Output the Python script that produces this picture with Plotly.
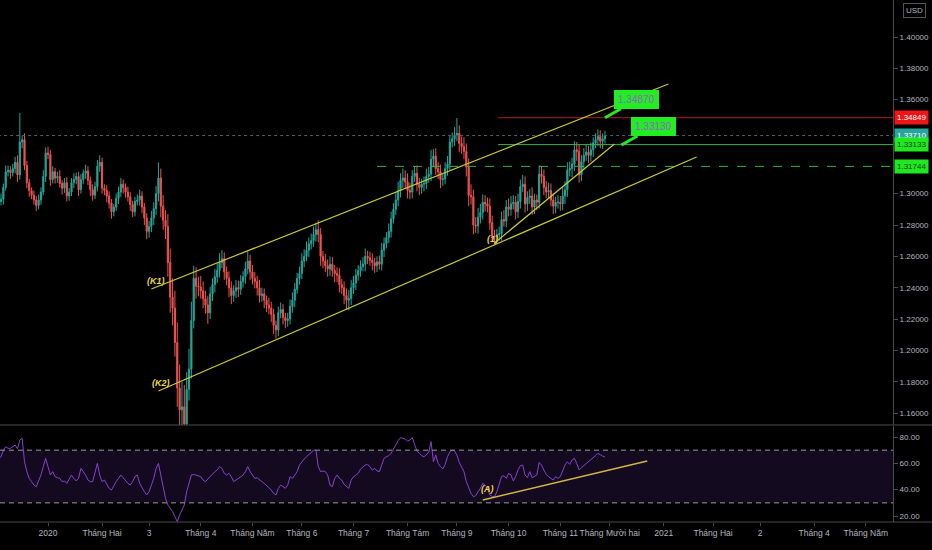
import plotly.graph_objects as go
import pandas as pd

# daily candles, first bar on 2019-12-03, one value per weekday
first_day = "2019-12-03"
first_open = 1.2930

closes = [
    # Dec 2019
    1.2950, 1.2965, 1.3040, 1.3140, 1.3150, 1.3135, 1.3160, 1.3200, 1.3120, 1.3330,
    1.3345, 1.3180, 1.3070, 1.3020, 1.2990, 1.2960, 1.2925, 1.2960, 1.3010, 1.3110,
    1.3260,
    # Jan 2020
    1.3250, 1.3090, 1.3140, 1.3100, 1.3110, 1.3065, 1.3035, 1.3070, 1.2985, 1.3010,
    1.3070, 1.3090, 1.3110, 1.3025, 1.3090, 1.3130, 1.3145, 1.3085, 1.3025, 1.2990,
    1.3045, 1.3175, 1.3200,
    # Feb
    1.3035, 1.3020, 1.2985, 1.2940, 1.2885, 1.2915, 1.2970, 1.3010, 1.3060, 1.3040,
    1.3010, 1.2980, 1.2930, 1.2885, 1.2950, 1.2960, 1.2985, 1.2915, 1.2845, 1.2760,
    # Mar
    1.2790, 1.2845, 1.2905, 1.3000, 1.3100, 1.2920, 1.2830, 1.2790, 1.2560, 1.2340,
    1.2270, 1.2050, 1.1760, 1.1620, 1.1640, 1.1530, 1.1750, 1.1880, 1.2190, 1.2460,
    1.2410, 1.2405,
    # Apr
    1.2380, 1.2330, 1.2290, 1.2240, 1.2360, 1.2420, 1.2470, 1.2510, 1.2560, 1.2585,
    1.2500, 1.2460, 1.2400, 1.2350, 1.2380, 1.2400, 1.2390, 1.2440, 1.2470, 1.2520,
    1.2570, 1.2500,
    # May
    1.2460, 1.2440, 1.2400, 1.2350, 1.2360, 1.2320, 1.2290, 1.2270, 1.2230, 1.2160,
    1.2130, 1.2240, 1.2260, 1.2210, 1.2190, 1.2200, 1.2280, 1.2320, 1.2390, 1.2460,
    1.2490,
    # Jun
    1.2570, 1.2600, 1.2640, 1.2680, 1.2700, 1.2740, 1.2770, 1.2740, 1.2600, 1.2570,
    1.2540, 1.2520, 1.2550, 1.2510, 1.2490, 1.2480, 1.2420, 1.2400, 1.2350, 1.2320,
    1.2330, 1.2400,
    # Jul
    1.2430, 1.2480, 1.2510, 1.2535, 1.2550, 1.2600, 1.2590, 1.2575, 1.2560, 1.2540,
    1.2565, 1.2550, 1.2640, 1.2680, 1.2720, 1.2760, 1.2840, 1.2900, 1.2960, 1.3020,
    1.3085, 1.3100, 1.3075,
    # Aug
    1.3020, 1.3010, 1.3110, 1.3130, 1.3060, 1.3040, 1.3060, 1.3065, 1.3110, 1.3125,
    1.3220, 1.3240, 1.3160, 1.3140, 1.3090, 1.3095, 1.3160, 1.3190, 1.3330, 1.3350,
    1.3375,
    # Sep
    1.3385, 1.3320, 1.3300, 1.3270, 1.3170, 1.2990, 1.2980, 1.2800, 1.2795, 1.2850,
    1.2880, 1.2945, 1.2935, 1.2920, 1.2815, 1.2730, 1.2725, 1.2740, 1.2745, 1.2835,
    1.2825, 1.2915,
    # Oct
    1.2900, 1.2935, 1.2945, 1.2885, 1.2950, 1.3045, 1.3060, 1.2935, 1.2975, 1.2985,
    1.2915, 1.2960, 1.2945, 1.3125, 1.3110, 1.3040, 1.3010, 1.3020, 1.2960, 1.2920,
    1.2945, 1.2945,
    # Nov
    1.2935, 1.2985, 1.3025, 1.3150, 1.3160, 1.3190, 1.3280, 1.3270, 1.3120, 1.3205,
    1.3245, 1.3265, 1.3245, 1.3280, 1.3325, 1.3345, 1.3365, 1.3335, 1.3350, 1.3371,
]

# wick lengths in pips above the body / below the body
wick_up = [
    20, 35, 25, 40, 30, 25, 30, 35, 45, 185, 25, 40, 30, 25, 20, 30, 25, 35, 30, 40, 35,
    40, 30, 35, 25, 30, 40, 20, 30, 35, 25, 30, 40, 25, 30, 35, 25, 40, 30, 25, 35, 30, 40, 45,
    30, 25, 35, 30, 25, 20, 30, 35, 40, 30, 25, 35, 30, 25, 30, 35, 40, 30, 25, 30,
    35, 45, 40, 50, 100, 60, 70, 65, 80, 90, 120, 110, 130, 150, 160, 140, 110, 130, 120, 80, 70, 60,
    70, 60, 50, 55, 45, 40, 50, 45, 60, 55, 40, 35, 45, 40, 35, 50, 45, 40, 35, 45, 60, 40,
    45, 40, 35, 50, 40, 35, 30, 45, 40, 35, 30, 40, 45, 35, 30, 40, 45, 50, 40, 35, 45,
    50, 45, 55, 40, 45, 50, 45, 60, 40, 35, 45, 40, 50, 45, 35, 40, 45, 35, 40, 45, 55, 50,
    45, 40, 35, 40, 45, 50, 35, 40, 45, 30, 35, 40, 45, 40, 35, 50, 45, 40, 50, 55, 45, 60, 50,
    55, 50, 40, 45, 50, 40, 35, 45, 50, 45, 60, 45, 50, 40, 45, 35, 40, 50, 45, 40, 50,
    98, 50, 45, 60, 50, 55, 70, 45, 50, 60, 55, 50, 45, 40, 50, 45, 40, 35, 45, 50, 60, 45,
    55, 50, 45, 40, 50, 45, 60, 50, 40, 45, 55, 40, 35, 55, 50, 45, 40, 50, 45, 40, 35, 45,
    40, 60, 55, 50, 45, 40, 55, 50, 45, 40, 45, 50, 40, 45, 35, 40, 45, 40, 35, 30,
]
wick_dn = [
    30, 25, 35, 20, 30, 40, 25, 30, 45, 30, 40, 30, 35, 40, 25, 30, 35, 25, 30, 20, 35,
    30, 40, 25, 35, 30, 25, 40, 30, 35, 30, 25, 35, 30, 40, 25, 30, 35, 30, 40, 35, 25, 30, 35,
    35, 30, 40, 35, 45, 30, 25, 35, 30, 40, 35, 30, 40, 35, 30, 25, 35, 40, 45, 50,
    40, 35, 45, 40, 50, 70, 60, 80, 90, 100, 110, 90, 120, 170, 211, 120, 90, 70, 60, 50, 80, 60,
    50, 60, 55, 70, 40, 45, 50, 40, 45, 35, 50, 45, 60, 55, 40, 45, 50, 35, 40, 45, 35, 50,
    40, 45, 50, 45, 40, 50, 45, 40, 50, 55, 55, 40, 35, 45, 50, 40, 35, 40, 45, 30, 40,
    35, 40, 30, 45, 35, 40, 45, 50, 60, 45, 40, 50, 45, 40, 55, 45, 50, 40, 55, 60, 65, 40,
    40, 45, 35, 40, 30, 45, 40, 35, 50, 45, 40, 35, 40, 45, 30, 35, 40, 30, 35, 40, 45, 50, 45,
    50, 45, 40, 35, 45, 50, 40, 45, 35, 40, 45, 50, 40, 45, 55, 40, 35, 45, 40, 35, 45,
    40, 55, 45, 50, 60, 70, 50, 60, 45, 50, 40, 45, 50, 40, 45, 40, 49, 45, 40, 45, 35, 40,
    45, 40, 35, 50, 40, 45, 35, 55, 45, 40, 50, 45, 50, 40, 45, 50, 40, 45, 40, 50, 45, 40,
    45, 40, 50, 45, 40, 55, 45, 60, 50, 40, 45, 35, 50, 40, 45, 35, 40, 45, 50, 30,
]

rsi = [
    63.8, 65.0, 70.0, 72.6, 71.4, 71.4, 72.6, 73.9, 71.0, 77.7, 79.0, 61.2, 53.7, 48.6, 46.1,
    43.5, 42.3, 46.1, 51.1, 57.5, 63.8,
    57.5, 51.1, 53.7, 49.9, 49.1, 48.6, 46.1, 46.6, 44.8, 48.6, 51.1, 48.6, 46.6, 48.6, 56.2,
    53.7, 51.1, 47.3, 46.1, 46.1, 53.7, 60.0, 51.1,
    46.1, 47.3, 43.5, 41.0, 39.7, 43.5, 46.1, 48.6, 51.1, 49.1, 46.6, 44.8, 43.5, 46.1, 49.9,
    51.1, 44.8, 41.0, 38.5, 36.0,
    38.5, 43.5, 48.6, 56.2, 60.0, 51.1, 42.3, 33.4, 28.4, 25.8, 23.3, 19.5, 15.7, 20.8, 24.6,
    28.4, 38.5, 44.8, 51.1, 51.6, 51.1, 50.6,
    49.9, 47.3, 46.1, 48.1, 49.9, 52.4, 53.7, 54.9, 57.5, 56.2, 52.4, 51.1, 52.4, 49.9, 46.1,
    47.3, 48.6, 49.9, 51.1, 53.7, 57.5, 53.7,
    51.1, 48.6, 49.1, 47.3, 46.1, 44.8, 43.5, 41.5, 39.7, 37.2, 36.0, 41.0, 43.5, 42.3, 41.0,
    43.5, 49.9, 48.6, 51.1, 53.7, 58.7,
    61.2, 63.3, 65.0, 66.8, 68.8, 69.9, 70.1, 57.5, 53.7, 54.2, 53.7, 51.1, 43.5, 42.3, 48.6,
    51.1, 48.6, 47.3, 44.0, 42.3, 41.0, 47.3,
    49.9, 51.1, 52.4, 55.7, 57.5, 58.7, 59.2, 57.5, 54.9, 56.2, 54.2, 53.7, 58.7, 63.8, 65.0,
    65.8, 67.6, 71.4, 73.9, 77.2, 79.5, 79.0, 78.5,
    76.9, 77.7, 79.5, 73.9, 69.3, 67.6, 65.8, 65.0, 66.8, 68.3, 76.5, 61.2, 66.3, 60.0, 57.5,
    55.7, 59.2, 65.0, 68.8, 70.1, 69.3,
    66.3, 60.7, 57.5, 53.7, 46.1, 41.0, 37.2, 34.7, 35.4, 38.5, 41.0, 44.8, 43.5, 41.0, 36.0,
    34.7, 34.7, 38.5, 44.8, 49.9, 50.6, 48.6,
    52.4, 51.1, 46.6, 49.9, 54.9, 58.2, 58.7, 51.1, 49.1, 53.7, 49.1, 49.9, 51.1, 60.7, 58.7,
    54.9, 51.6, 49.9, 48.6, 47.3, 49.9, 48.6,
    49.9, 54.9, 58.7, 61.2, 59.2, 62.5, 63.8, 60.0, 54.9, 56.7, 58.2, 60.0, 61.2, 62.5, 63.8,
    65.8, 67.6, 66.3, 65.5, 64.8,
]

tick_dates = ["2020-01-01", "2020-02-03", "2020-03-02", "2020-04-01", "2020-05-01",
              "2020-06-01", "2020-07-01", "2020-08-03", "2020-09-01", "2020-10-01",
              "2020-11-02", "2020-12-01", "2021-01-01", "2021-02-01", "2021-03-01",
              "2021-04-01", "2021-05-03"]
tick_text = ["2020", "Tháng Hai", "3", "Tháng 4", "Tháng Năm", "Tháng 6", "Tháng 7",
             "Tháng Tám", "Tháng 9", "Tháng 10", "Tháng 11", "Tháng Mười hai", "2021",
             "Tháng Hai", "2", "Tháng 4", "Tháng Năm"]

# price ticks left visible (1.34 and 1.32 sit under the level labels)
price_ticks = [1.16, 1.18, 1.20, 1.22, 1.24, 1.26, 1.28, 1.30, 1.36, 1.38, 1.40]
rsi_ticks = [20, 40, 60, 80]

# horizontal levels: price, start date, colour, dash, label colour, label text colour
level_prices = [1.34849, 1.33710, 1.33133, 1.31744]
level_starts = ["2020-09-24 12:00", "2019-11-20", "2020-09-24 12:00", "2020-07-15"]
level_colors = ["#b8191c", "#5a5d66", "#3fae49", "#2fb83a"]
level_dash = ["solid", "dot", "solid", "dash"]
level_box = ["#f01515", "#26a69a", "#1ee81e", "#1ee81e"]
level_font = ["#ffffff", "#ffffff", "#1a3a1a", "#1a3a1a"]

channel_top_x = ["2020-03-03", "2021-01-05"]
channel_top_y = [1.2392, 1.3700]
channel_bot_x = ["2020-03-06", "2021-01-21"]
channel_bot_y = [1.1741, 1.3234]
wedge_x = ["2020-09-23", "2020-12-03"]
wedge_y = [1.2685, 1.3317]
rsi_trend_x = ["2020-09-16", "2020-12-23"]
rsi_trend_y = [32.2, 61.8]

tag_text = ["(K1)", "(K2)", "(1)"]
tag_x = ["2020-03-05", "2020-03-09", "2020-09-22"]
tag_y = [1.2443, 1.1792, 1.2711]

callout_text = ["1.34870", "1.33130"]
callout_x = ["2020-11-27", "2020-12-08"]
callout_y = [1.3485, 1.3311]

days = pd.bdate_range(first_day, periods=len(closes))
opens = [first_open] + closes[:-1]
highs = [max(o, c) + w / 10000 for o, c, w in zip(opens, closes, wick_up)]
lows = [min(o, c) - w / 10000 for o, c, w in zip(opens, closes, wick_dn)]

fig = go.Figure()

fig.add_trace(go.Candlestick(
    x=days, open=opens, high=highs, low=lows, close=closes,
    increasing=dict(line=dict(color="#26a69a", width=1), fillcolor="#26a69a"),
    decreasing=dict(line=dict(color="#ef5350", width=1), fillcolor="#ef5350"),
    hoverinfo="skip", xaxis="x", yaxis="y"))

far_right = "2021-07-30"
for p, s, c, d in zip(level_prices, level_starts, level_colors, level_dash):
    fig.add_trace(go.Scatter(x=[s, far_right], y=[p, p], mode="lines",
                             line=dict(color=c, width=1, dash=d),
                             hoverinfo="skip", xaxis="x", yaxis="y"))

yellow = "#c9c934"
for lx, ly in [(channel_top_x, channel_top_y), (channel_bot_x, channel_bot_y), (wedge_x, wedge_y)]:
    fig.add_trace(go.Scatter(x=lx, y=ly, mode="lines", line=dict(color=yellow, width=1.2),
                             hoverinfo="skip", xaxis="x", yaxis="y"))

# RSI pane
fig.add_trace(go.Scatter(x=days, y=rsi, mode="lines", line=dict(color="#8a3fd0", width=1),
                         hoverinfo="skip", xaxis="x", yaxis="y2"))
fig.add_trace(go.Scatter(x=rsi_trend_x, y=rsi_trend_y, mode="lines",
                         line=dict(color="#d2b640", width=1.5),
                         hoverinfo="skip", xaxis="x", yaxis="y2"))

shapes = [
    dict(type="rect", xref="paper", yref="y2", x0=0, x1=1, y0=30, y1=70,
         fillcolor="rgba(120,60,190,0.16)", line=dict(width=0), layer="below"),
    dict(type="line", xref="paper", yref="y2", x0=0, x1=1, y0=70, y1=70,
         line=dict(color="#9a9aa2", width=1, dash="5px,4px")),
    dict(type="line", xref="paper", yref="y2", x0=0, x1=1, y0=30, y1=30,
         line=dict(color="#9a9aa2", width=1, dash="5px,4px")),
    dict(type="line", xref="paper", yref="paper", x0=0, x1=1.05, y0=0.1858, y1=0.1858,
         line=dict(color="#4a4a4a", width=1)),
    dict(type="line", xref="paper", yref="paper", x0=0, x1=1.05, y0=0, y1=0,
         line=dict(color="#4a4a4a", width=1)),
]

annotations = []
for t, x, y in zip(tag_text, tag_x, tag_y):
    annotations.append(dict(x=x, y=y, xref="x", yref="y", text="<b><i>" + t + "</i></b>",
                            showarrow=False, font=dict(color="#efd83a", size=9)))
annotations.append(dict(x="2020-09-18", y=40.5, xref="x", yref="y2", text="<b><i>(A)</i></b>",
                        showarrow=False, font=dict(color="#efd83a", size=9)))

for t, x, y in zip(callout_text, callout_x, callout_y):
    annotations.append(dict(x=x, y=y, xref="x", yref="y", text=t, showarrow=True,
                            ax=32, ay=-18, arrowhead=0, arrowwidth=3, arrowcolor="#22ec22",
                            bgcolor="#22ec22", bordercolor="#22ec22", borderpad=3,
                            font=dict(color="#9562c8", size=10, family="Liberation Sans")))

for p, bc, fc in zip(level_prices, level_box, level_font):
    annotations.append(dict(x=1, y=p, xref="paper", yref="y", xanchor="left", xshift=1,
                            text="%.5f" % p, showarrow=False, bgcolor=bc, borderpad=2,
                            font=dict(color=fc, size=8, family="Liberation Sans")))

annotations.append(dict(x=1, y=1, xref="paper", yref="paper", xanchor="left", yanchor="top",
                        xshift=10, yshift=-3, text="USD", showarrow=False,
                        bordercolor="#555555", borderwidth=1, borderpad=2,
                        font=dict(color="#b2b5be", size=8, family="Liberation Sans")))

axis_font = dict(color="#b2b5be", size=8, family="Liberation Sans")

fig.update_layout(
    width=932, height=550,
    margin=dict(l=0, r=39, t=0, b=28),
    paper_bgcolor="#000000", plot_bgcolor="#000000",
    showlegend=False,
    font=dict(family="Liberation Sans"),
    shapes=shapes, annotations=annotations,
    xaxis=dict(type="date", anchor="y2", range=["2019-12-03 13:40", "2021-05-18 13:40"],
               rangebreaks=[dict(bounds=["sat", "mon"])],
               tickvals=tick_dates, ticktext=tick_text, tickangle=0,
               ticks="outside", ticklen=3, tickcolor="#4a4a4a",
               tickfont=dict(color="#b2b5be", size=8.5, family="Liberation Sans"),
               showgrid=False, zeroline=False,
               rangeslider=dict(visible=False), fixedrange=True),
    yaxis=dict(domain=[0.1858, 1], range=[1.15235, 1.42362], side="right",
               tickvals=price_ticks, tickformat=".5f", ticks="outside", ticklen=4,
               tickcolor="#4a4a4a", tickfont=axis_font, showgrid=False, zeroline=False,
               showline=True, linecolor="#4a4a4a", linewidth=1),
    yaxis2=dict(domain=[0, 0.1839], range=[15.45, 88.35], side="right",
                tickvals=rsi_ticks, tickformat=".2f", ticks="outside", ticklen=4,
                tickcolor="#4a4a4a", tickfont=axis_font, showgrid=False, zeroline=False,
                showline=True, linecolor="#4a4a4a", linewidth=1),
)

fig.write_html("out.html", config={"displayModeBar": False},
               post_script="document.body.style.margin='0';document.body.style.background='#000';")
